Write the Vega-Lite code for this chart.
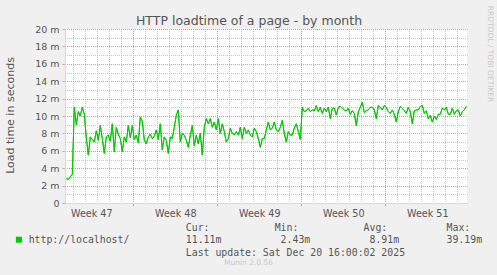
{
  "$schema": "https://vega.github.io/schema/vega-lite/v6.json",
  "width": 402,
  "height": 174,
  "autosize": "none",
  "padding": {"left": 65, "top": 29, "right": 30, "bottom": 72},
  "background": "#F0F0F0",
  "config": {"view": {"fill": "#FFFFFF", "stroke": null}, "font": "DejaVu Sans"},
  "title": {"text": "Munin 2.0.56", "orient": "bottom", "font": "DejaVu Sans", "fontSize": 7.5, "fontWeight": "normal", "color": "#C8C8C8", "anchor": "middle", "frame": "group", "dx": -17.5, "baseline": "top", "offset": 2},
  "data": {"values": [
    {"t":"2025-11-17T10:00Z","v":0.0028},{"t":"2025-11-17T14:00Z","v":0.0027},{"t":"2025-11-17T18:00Z","v":0.0030},{"t":"2025-11-17T22:00Z","v":0.0033},
    {"t":"2025-11-18T02:00Z","v":0.0110},{"t":"2025-11-18T06:00Z","v":0.0090},{"t":"2025-11-18T10:00Z","v":0.0105},{"t":"2025-11-18T14:00Z","v":0.0100},{"t":"2025-11-18T18:00Z","v":0.0110},{"t":"2025-11-18T22:00Z","v":0.0102},
    {"t":"2025-11-19T02:00Z","v":0.0075},{"t":"2025-11-19T06:00Z","v":0.0055},{"t":"2025-11-19T10:00Z","v":0.0076},{"t":"2025-11-19T14:00Z","v":0.0073},{"t":"2025-11-19T18:00Z","v":0.0070},{"t":"2025-11-19T22:00Z","v":0.0083},
    {"t":"2025-11-20T02:00Z","v":0.0072},{"t":"2025-11-20T06:00Z","v":0.0089},{"t":"2025-11-20T10:00Z","v":0.0074},{"t":"2025-11-20T14:00Z","v":0.0057},{"t":"2025-11-20T18:00Z","v":0.0076},{"t":"2025-11-20T22:00Z","v":0.0078},
    {"t":"2025-11-21T02:00Z","v":0.0071},{"t":"2025-11-21T06:00Z","v":0.0091},{"t":"2025-11-21T10:00Z","v":0.0059},{"t":"2025-11-21T14:00Z","v":0.0087},{"t":"2025-11-21T18:00Z","v":0.0079},{"t":"2025-11-21T22:00Z","v":0.0074},
    {"t":"2025-11-22T02:00Z","v":0.0059},{"t":"2025-11-22T06:00Z","v":0.0076},{"t":"2025-11-22T10:00Z","v":0.0070},{"t":"2025-11-22T14:00Z","v":0.0089},{"t":"2025-11-22T18:00Z","v":0.0075},{"t":"2025-11-22T22:00Z","v":0.0089},
    {"t":"2025-11-23T02:00Z","v":0.0073},{"t":"2025-11-23T06:00Z","v":0.0078},{"t":"2025-11-23T10:00Z","v":0.0069},{"t":"2025-11-23T14:00Z","v":0.0099},{"t":"2025-11-23T18:00Z","v":0.0094},{"t":"2025-11-23T22:00Z","v":0.0072},
    {"t":"2025-11-24T02:00Z","v":0.0068},{"t":"2025-11-24T06:00Z","v":0.0076},{"t":"2025-11-24T10:00Z","v":0.0079},{"t":"2025-11-24T14:00Z","v":0.0074},{"t":"2025-11-24T18:00Z","v":0.0077},{"t":"2025-11-24T22:00Z","v":0.0084},
    {"t":"2025-11-25T02:00Z","v":0.0073},{"t":"2025-11-25T06:00Z","v":0.0091},{"t":"2025-11-25T10:00Z","v":0.0061},{"t":"2025-11-25T14:00Z","v":0.0076},{"t":"2025-11-25T18:00Z","v":0.0072},{"t":"2025-11-25T22:00Z","v":0.0057},
    {"t":"2025-11-26T02:00Z","v":0.0076},{"t":"2025-11-26T06:00Z","v":0.0074},{"t":"2025-11-26T10:00Z","v":0.0087},{"t":"2025-11-26T14:00Z","v":0.0101},{"t":"2025-11-26T18:00Z","v":0.0107},{"t":"2025-11-26T22:00Z","v":0.0070},
    {"t":"2025-11-27T02:00Z","v":0.0080},{"t":"2025-11-27T06:00Z","v":0.0078},{"t":"2025-11-27T10:00Z","v":0.0072},{"t":"2025-11-27T14:00Z","v":0.0064},{"t":"2025-11-27T18:00Z","v":0.0078},{"t":"2025-11-27T22:00Z","v":0.0089},
    {"t":"2025-11-28T02:00Z","v":0.0066},{"t":"2025-11-28T06:00Z","v":0.0078},{"t":"2025-11-28T10:00Z","v":0.0068},{"t":"2025-11-28T14:00Z","v":0.0080},{"t":"2025-11-28T18:00Z","v":0.0055},{"t":"2025-11-28T22:00Z","v":0.0087},
    {"t":"2025-11-29T02:00Z","v":0.0097},{"t":"2025-11-29T06:00Z","v":0.0091},{"t":"2025-11-29T10:00Z","v":0.0097},{"t":"2025-11-29T14:00Z","v":0.0087},{"t":"2025-11-29T18:00Z","v":0.0093},{"t":"2025-11-29T22:00Z","v":0.0084},
    {"t":"2025-11-30T02:00Z","v":0.0097},{"t":"2025-11-30T06:00Z","v":0.0080},{"t":"2025-11-30T10:00Z","v":0.0091},{"t":"2025-11-30T14:00Z","v":0.0082},{"t":"2025-11-30T18:00Z","v":0.0070},{"t":"2025-11-30T22:00Z","v":0.0074},
    {"t":"2025-12-01T02:00Z","v":0.0086},{"t":"2025-12-01T06:00Z","v":0.0080},{"t":"2025-12-01T10:00Z","v":0.0078},{"t":"2025-12-01T14:00Z","v":0.0082},{"t":"2025-12-01T18:00Z","v":0.0078},{"t":"2025-12-01T22:00Z","v":0.0087},
    {"t":"2025-12-02T02:00Z","v":0.0074},{"t":"2025-12-02T06:00Z","v":0.0087},{"t":"2025-12-02T10:00Z","v":0.0080},{"t":"2025-12-02T14:00Z","v":0.0084},{"t":"2025-12-02T18:00Z","v":0.0078},{"t":"2025-12-02T22:00Z","v":0.0076},
    {"t":"2025-12-03T02:00Z","v":0.0086},{"t":"2025-12-03T06:00Z","v":0.0082},{"t":"2025-12-03T10:00Z","v":0.0074},{"t":"2025-12-03T14:00Z","v":0.0064},{"t":"2025-12-03T18:00Z","v":0.0074},{"t":"2025-12-03T22:00Z","v":0.0074},
    {"t":"2025-12-04T02:00Z","v":0.0084},{"t":"2025-12-04T06:00Z","v":0.0093},{"t":"2025-12-04T10:00Z","v":0.0084},{"t":"2025-12-04T14:00Z","v":0.0086},{"t":"2025-12-04T18:00Z","v":0.0093},{"t":"2025-12-04T22:00Z","v":0.0084},
    {"t":"2025-12-05T02:00Z","v":0.0082},{"t":"2025-12-05T06:00Z","v":0.0087},{"t":"2025-12-05T10:00Z","v":0.0095},{"t":"2025-12-05T14:00Z","v":0.0080},{"t":"2025-12-05T18:00Z","v":0.0070},{"t":"2025-12-05T22:00Z","v":0.0082},
    {"t":"2025-12-06T02:00Z","v":0.0078},{"t":"2025-12-06T06:00Z","v":0.0078},{"t":"2025-12-06T10:00Z","v":0.0086},{"t":"2025-12-06T14:00Z","v":0.0091},{"t":"2025-12-06T18:00Z","v":0.0082},{"t":"2025-12-06T22:00Z","v":0.0073},
    {"t":"2025-12-07T02:00Z","v":0.0110},{"t":"2025-12-07T06:00Z","v":0.0105},{"t":"2025-12-07T10:00Z","v":0.0106},{"t":"2025-12-07T14:00Z","v":0.0109},{"t":"2025-12-07T18:00Z","v":0.0105},{"t":"2025-12-07T22:00Z","v":0.0107},
    {"t":"2025-12-08T02:00Z","v":0.0106},{"t":"2025-12-08T06:00Z","v":0.0112},{"t":"2025-12-08T10:00Z","v":0.0105},{"t":"2025-12-08T14:00Z","v":0.0110},{"t":"2025-12-08T18:00Z","v":0.0103},{"t":"2025-12-08T22:00Z","v":0.0109},
    {"t":"2025-12-09T02:00Z","v":0.0105},{"t":"2025-12-09T06:00Z","v":0.0110},{"t":"2025-12-09T10:00Z","v":0.0097},{"t":"2025-12-09T14:00Z","v":0.0109},{"t":"2025-12-09T18:00Z","v":0.0109},{"t":"2025-12-09T22:00Z","v":0.0101},
    {"t":"2025-12-10T02:00Z","v":0.0110},{"t":"2025-12-10T06:00Z","v":0.0111},{"t":"2025-12-10T10:00Z","v":0.0109},{"t":"2025-12-10T14:00Z","v":0.0107},{"t":"2025-12-10T18:00Z","v":0.0106},{"t":"2025-12-10T22:00Z","v":0.0109},
    {"t":"2025-12-11T02:00Z","v":0.0102},{"t":"2025-12-11T06:00Z","v":0.0106},{"t":"2025-12-11T10:00Z","v":0.0103},{"t":"2025-12-11T14:00Z","v":0.0089},{"t":"2025-12-11T18:00Z","v":0.0105},{"t":"2025-12-11T22:00Z","v":0.0110},
    {"t":"2025-12-12T02:00Z","v":0.0116},{"t":"2025-12-12T06:00Z","v":0.0104},{"t":"2025-12-12T10:00Z","v":0.0106},{"t":"2025-12-12T14:00Z","v":0.0107},{"t":"2025-12-12T18:00Z","v":0.0110},{"t":"2025-12-12T22:00Z","v":0.0110},
    {"t":"2025-12-13T02:00Z","v":0.0107},{"t":"2025-12-13T06:00Z","v":0.0097},{"t":"2025-12-13T10:00Z","v":0.0112},{"t":"2025-12-13T14:00Z","v":0.0110},{"t":"2025-12-13T18:00Z","v":0.0107},{"t":"2025-12-13T22:00Z","v":0.0112},
    {"t":"2025-12-14T02:00Z","v":0.0110},{"t":"2025-12-14T06:00Z","v":0.0105},{"t":"2025-12-14T10:00Z","v":0.0103},{"t":"2025-12-14T14:00Z","v":0.0107},{"t":"2025-12-14T18:00Z","v":0.0102},{"t":"2025-12-14T22:00Z","v":0.0093},
    {"t":"2025-12-15T02:00Z","v":0.0105},{"t":"2025-12-15T06:00Z","v":0.0111},{"t":"2025-12-15T10:00Z","v":0.0109},{"t":"2025-12-15T14:00Z","v":0.0106},{"t":"2025-12-15T18:00Z","v":0.0103},{"t":"2025-12-15T22:00Z","v":0.0110},
    {"t":"2025-12-16T02:00Z","v":0.0105},{"t":"2025-12-16T06:00Z","v":0.0091},{"t":"2025-12-16T10:00Z","v":0.0106},{"t":"2025-12-16T14:00Z","v":0.0107},{"t":"2025-12-16T18:00Z","v":0.0107},{"t":"2025-12-16T22:00Z","v":0.0111},
    {"t":"2025-12-17T02:00Z","v":0.0112},{"t":"2025-12-17T06:00Z","v":0.0103},{"t":"2025-12-17T10:00Z","v":0.0106},{"t":"2025-12-17T14:00Z","v":0.0097},{"t":"2025-12-17T18:00Z","v":0.0101},{"t":"2025-12-17T22:00Z","v":0.0093},
    {"t":"2025-12-18T02:00Z","v":0.0100},{"t":"2025-12-18T06:00Z","v":0.0096},{"t":"2025-12-18T10:00Z","v":0.0102},{"t":"2025-12-18T14:00Z","v":0.0102},{"t":"2025-12-18T18:00Z","v":0.0109},{"t":"2025-12-18T22:00Z","v":0.0107},
    {"t":"2025-12-19T02:00Z","v":0.0110},{"t":"2025-12-19T06:00Z","v":0.0102},{"t":"2025-12-19T10:00Z","v":0.0102},{"t":"2025-12-19T14:00Z","v":0.0109},{"t":"2025-12-19T18:00Z","v":0.0102},{"t":"2025-12-19T22:00Z","v":0.0106},
    {"t":"2025-12-20T02:00Z","v":0.0107},{"t":"2025-12-20T06:00Z","v":0.0100},{"t":"2025-12-20T10:00Z","v":0.0105},{"t":"2025-12-20T14:00Z","v":0.0107},{"t":"2025-12-20T18:00Z","v":0.0111}
  ]},
  "layer": [
    {
      "mark": {"type": "line", "strokeWidth": 1, "interpolate": "linear"},
      "encoding": {
        "x": {
          "field": "t", "type": "temporal",
          "scale": {"type": "utc", "domain": [{"year": 2025, "month": 11, "date": 17, "hours": 7, "minutes": 24, "utc": true}, {"year": 2025, "month": 12, "date": 20, "hours": 19, "minutes": 24, "utc": true}]},
          "axis": {
            "orient": "bottom",
            "tickCount": {"interval": "day", "step": 1},
            "labelExpr": "utcday(datum.value) == 3 ? 'Week ' + utcFormat(datum.value, '%V') : ''",
            "labelOffset": 6, "labelOverlap": false, "labelFlush": false, "labelBound": false,
            "labelFont": "DejaVu Sans", "labelFontSize": 9.6, "labelColor": "#555555", "labelPadding": 2.5, "labelBaseline": "top",
            "tickSize": 3, "tickColor": "#E89898",
            "tickOpacity": {"condition": {"test": "utcday(datum.value) == 0", "value": 1}, "value": 0},
            "domainColor": "#CFD6F8", "domainWidth": 1,
            "grid": true,
            "gridColor": {"condition": {"test": "utcday(datum.value) == 0", "value": "#E89090"}, "value": "#C4C4C4"},
            "gridDash": [1, 1], "gridDashOffset": 0.5, "gridWidth": 1,
            "title": ["Cur:\u00a0\u00a0\u00a0\u00a0\u00a0\u00a0\u00a0\u00a0\u00a0\u00a0\u00a0Min:\u00a0\u00a0\u00a0\u00a0\u00a0\u00a0\u00a0\u00a0\u00a0\u00a0\u00a0Avg:\u00a0\u00a0\u00a0\u00a0\u00a0\u00a0\u00a0\u00a0\u00a0\u00a0Max:", "11.11m\u00a0\u00a0\u00a0\u00a0\u00a0\u00a0\u00a0\u00a0\u00a0\u00a02.43m\u00a0\u00a0\u00a0\u00a0\u00a0\u00a0\u00a0\u00a0\u00a0\u00a08.91m\u00a0\u00a0\u00a0\u00a0\u00a0\u00a0\u00a0\u00a039.19m", "\u00a0\u00a0\u00a0\u00a0\u00a0\u00a0\u00a0\u00a0\u00a0\u00a0\u00a0\u00a0\u00a0Last update: Sat Dec 20 16:00:02 2025"],
            "titleFont": "DejaVu Sans Mono", "titleFontSize": 9.85, "titleFontWeight": "normal", "titleColor": "#555555",
            "titleX": 120.3, "titleY": 27.7, "titleAlign": "left", "titleAnchor": "start", "titleBaseline": "alphabetic", "titleLineHeight": 12.2
          }
        },
        "y": {
          "field": "v", "type": "quantitative",
          "scale": {"domain": [0, 0.02], "nice": false, "zero": true},
          "axis": {
            "orient": "left",
            "values": [0, 0.001, 0.002, 0.003, 0.004, 0.005, 0.006, 0.007, 0.008, 0.009, 0.01, 0.011, 0.012, 0.013, 0.014, 0.015, 0.016, 0.017, 0.018, 0.019, 0.02],
            "labelExpr": "round(datum.value*1000) % 2 == 0 ? (datum.value == 0 ? '0' : round(datum.value*1000) + ' m') : ''",
            "labelFont": "DejaVu Sans", "labelFontSize": 9.5, "labelColor": "#555555", "labelPadding": 3, "labelOverlap": false, "labelFlush": false,
            "tickSize": 3, "tickColor": "#E89898",
            "tickOpacity": {"condition": {"test": "round(datum.value*1000) % 2 == 0", "value": 1}, "value": 0},
            "domainColor": "#CFD6F8", "domainWidth": 1,
            "grid": true,
            "gridColor": {"condition": {"test": "round(datum.value*1000) % 2 == 0", "value": "#E89090"}, "value": "#C4C4C4"},
            "gridDash": [1, 1], "gridDashOffset": 0.5, "gridWidth": 1,
            "title": "Load time in seconds",
            "titleFont": "DejaVu Sans", "titleFontSize": 11, "titleFontWeight": "normal", "titleColor": "#555555",
            "titleX": -54.5, "titleY": 86, "titleAngle": -90, "titleAlign": "center", "titleBaseline": "middle"
          }
        },
        "color": {
          "datum": "http://localhost/",
          "scale": {"range": ["#00CC00"]},
          "legend": {
            "orient": "none", "legendX": -51, "legendY": 205.8, "title": null, "padding": 0,
            "symbolType": "square", "symbolSize": 36, "symbolFillColor": "#00CC00", "symbolStrokeColor": "#00CC00", "symbolStrokeWidth": 0,
            "labelFont": "DejaVu Sans Mono", "labelFontSize": 9.85, "labelColor": "#555555", "labelOffset": 4.8,
            "encode": {"symbols": {"update": {"fill": {"value": "#00CC00"}, "stroke": {"value": "#00CC00"}, "strokeWidth": {"value": 0}}}}
          }
        }
      }
    },
    {
      "mark": {"type": "line", "strokeWidth": 1, "color": "#00CC00"},
      "encoding": {
        "x": {
          "field": "t", "type": "temporal",
          "axis": {
            "orient": "top", "labels": false, "ticks": false, "domain": false, "grid": false,
            "title": "HTTP loadtime of a page - by month", "titleFont": "DejaVu Sans", "titleFontSize": 12.5, "titleFontWeight": "normal", "titleColor": "#555555",
            "titleX": 183.5, "titleY": -4.5, "titleAlign": "center", "titleBaseline": "alphabetic"
          }
        },
        "y": {
          "field": "v", "type": "quantitative",
          "axis": {
            "orient": "right", "labels": false, "ticks": false, "domain": false, "grid": false,
            "title": "RRDTOOL / TOBI OETIKER", "titleFont": "DejaVu Sans", "titleFontSize": 7.5, "titleFontWeight": "normal", "titleColor": "#C8C8C8",
            "titleX": 22, "titleY": 24.5, "titleAngle": 90, "titleAlign": "center", "titleBaseline": "middle"
          }
        }
      }
    }
  ],
  "resolve": {"axis": {"x": "independent", "y": "independent"}}
}
